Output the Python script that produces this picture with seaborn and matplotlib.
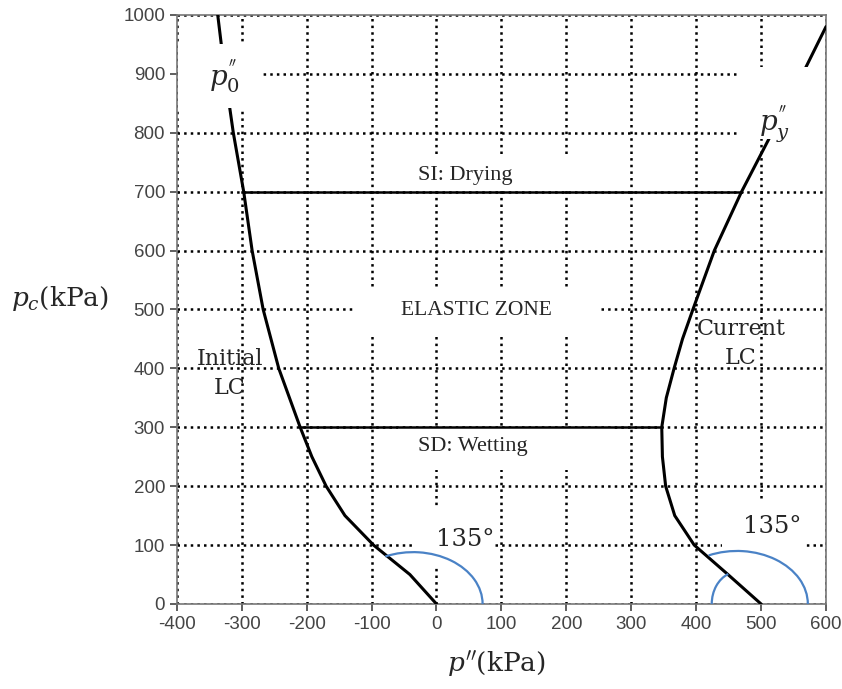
import numpy as np
import pandas as pd
import seaborn as sns
import matplotlib.pyplot as plt
from matplotlib.patches import Arc, Rectangle

# yield curves
initial_pc = [0, 50, 100, 150, 200, 250, 300, 400, 500, 600, 700, 800, 900, 1000]
initial_p = [0, -41, -97, -141, -170, -192, -210, -243, -267, -284, -297, -313, -326, -337]

current_pc = [0, 50, 100, 150, 200, 250, 300, 350, 400, 450, 500, 600, 700, 800, 900, 980]
current_p = [500, 449, 397, 367, 353, 348, 347, 354, 366, 379, 395, 428, 470, 517, 564, 600]

# stress paths
si_pc = 700
si_p = [-297, 470]
sd_pc = 300
sd_p = [-210, 347]

xticks = list(range(-400, 601, 100))
yticks = list(range(0, 1001, 100))

sns.set_style('ticks')
plt.rcParams['font.family'] = ['Liberation Sans', 'DejaVu Sans']
plt.rcParams['mathtext.fontset'] = 'dejavuserif'
plt.rcParams['axes.unicode_minus'] = False

fig = plt.figure(figsize=(8.42, 6.89), dpi=100)
ax = fig.add_axes([0.210, 0.1234, 0.771, 0.855])

init_df = pd.DataFrame({'p': initial_p, 'pc': initial_pc})
curr_df = pd.DataFrame({'p': current_p, 'pc': current_pc})
sns.lineplot(data=init_df, x='p', y='pc', sort=False, estimator=None, color='black', lw=2.2, ax=ax, zorder=3)
sns.lineplot(data=curr_df, x='p', y='pc', sort=False, estimator=None, color='black', lw=2.2, ax=ax, zorder=3)
ax.plot(si_p, [si_pc, si_pc], color='black', lw=1.8, zorder=3)
ax.plot(sd_p, [sd_pc, sd_pc], color='black', lw=1.8, zorder=3)

# angle arcs
blue = '#4a82c6'
ax.add_patch(Arc((-36, 0), 214, 176, theta1=0, theta2=118, color=blue, lw=1.6, zorder=3))
ax.add_patch(Arc((463, 0), 218, 180, theta1=0, theta2=118, color=blue, lw=1.6, zorder=3))
ax.add_patch(Arc((465, 0), 82, 110, theta1=107, theta2=180, color=blue, lw=1.6, zorder=3))

# white label boxes that hide the grid (x0, y0, w, h, zorder)
boxes = [(-80, 702, 350, 60, 2), (-129, 460, 378, 73, 2), (-60, 228, 330, 70, 2),
         (-33, 66, 123, 97, 2), (440, 2, 125, 175, 2),
         (-398, 842, 131, 108, 3.5), (467, 790, 131, 122, 3.5)]
for x0, y0, w, h, z in boxes:
    ax.add_patch(Rectangle((x0, y0), w, h, facecolor='white', edgecolor='none', zorder=z))

ax.set_xlim(-400, 600)
ax.set_ylim(0, 1000)
ax.set_xticks(xticks)
ax.set_yticks(yticks)
ax.grid(True, color='black', ls=':', lw=1.8, zorder=1)
ax.set_axisbelow(True)
for s in ax.spines.values():
    s.set_color('#777777')
    s.set_linewidth(1.2)
ax.tick_params(colors='#444444', labelsize=13.5, length=5, width=1.2, direction='out')
ax.set_xlabel('')
ax.set_ylabel('')

times = ['Liberation Serif', 'DejaVu Serif']
camb = ['DejaVu Serif']
ax.text(45, 727, 'SI: Drying', family=times, fontsize=16, ha='center', va='center', zorder=4)
ax.text(56, 267, 'SD: Wetting', family=times, fontsize=16, ha='center', va='center', zorder=4)
ax.text(61, 499, 'ELASTIC ZONE', family=times, fontsize=15.5, ha='center', va='center', zorder=4)
ax.text(-318, 391, 'Initial\nLC', family=camb, fontsize=16, ha='center', va='center',
        linespacing=1.45, zorder=4)
ax.text(469, 442, 'Current\nLC', family=camb, fontsize=16, ha='center', va='center',
        linespacing=1.45, zorder=4)
ax.text(44, 109, '135°', family=camb, fontsize=17.5, ha='center', va='center', zorder=4)
ax.text(517, 131, '135°', family=camb, fontsize=17.5, ha='center', va='center', zorder=4)
ax.text(-326, 895, r"$p_0^{''}$", fontsize=20, ha='center', va='center', zorder=4)
ax.text(521, 815, r"$p_y^{''}$", fontsize=20, ha='center', va='center', zorder=4)

fig.text(0.589, 0.035, r"$p''$(kPa)", family=camb, fontsize=19, ha='center', va='center')
fig.text(0.071, 0.567, r"$p_c$(kPa)", family=camb, fontsize=19, ha='center', va='center')

fig.savefig('out.png', dpi=100)
